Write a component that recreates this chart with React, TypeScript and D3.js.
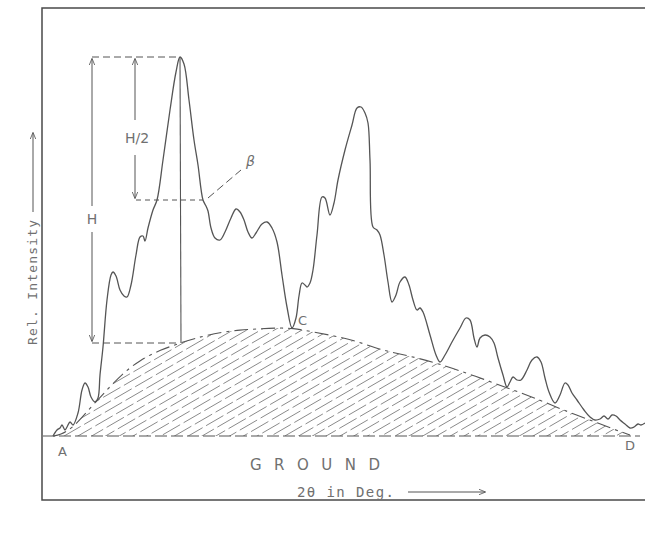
import React from 'react'
import * as d3 from 'd3'

const W = 645, H = 534

// trace of the diffractogram (arbitrary 2θ units, relative counts)
const twoTheta = [0, 4, 7, 9, 12, 14, 17, 20, 25, 29, 32, 35, 38, 42, 45, 47, 50, 54, 58, 60, 63, 67, 71, 74, 78, 83, 87, 90, 92, 95, 100, 104, 110, 117, 123, 127, 131, 136, 141, 145, 150, 153, 155, 158, 162, 167, 172, 178, 183, 187, 191, 195, 199, 203, 209, 214, 219, 224, 229, 234, 239, 243, 246, 249, 252, 254, 257, 260, 264, 269, 272, 277, 281, 285, 292, 299, 304, 308, 312, 315, 317, 320, 324, 327, 331, 335, 339, 343, 347, 352, 356, 360, 364, 367, 370, 377, 383, 387, 392, 399, 407, 413, 417, 421, 424, 427, 432, 437, 441, 445, 450, 454, 457, 460, 464, 468, 474, 479, 484, 488, 492, 496, 502, 507, 512, 515, 519, 524, 531, 537, 542, 547, 551, 555, 559, 563, 567, 572, 577, 581, 585, 588, 592]
const intensity = [0, 6, 8, 11, 6, 9, 14, 11, 23, 46, 53, 49, 39, 34, 38, 61, 89, 136, 161, 164, 160, 146, 140, 139, 151, 181, 199, 200, 195, 208, 226, 236, 276, 326, 364, 379, 372, 336, 296, 271, 236, 230, 225, 208, 198, 196, 204, 218, 227, 224, 216, 204, 198, 203, 212, 214, 208, 194, 161, 129, 108, 118, 140, 153, 151, 149, 153, 166, 201, 239, 238, 221, 233, 256, 286, 311, 328, 329, 323, 313, 276, 209, 206, 201, 181, 154, 134, 141, 154, 159, 151, 136, 126, 128, 124, 101, 81, 74, 81, 94, 108, 118, 116, 98, 89, 98, 101, 99, 93, 78, 61, 49, 54, 59, 56, 56, 66, 76, 79, 74, 58, 44, 33, 41, 53, 51, 43, 36, 26, 19, 16, 17, 20, 17, 21, 20, 16, 12, 8, 9, 12, 11, 13]

// amorphous background (hatched hump)
const bgTheta = [0, 7, 20, 37, 54, 69, 87, 107, 130, 150, 170, 187, 204, 222, 240, 260, 282, 304, 327, 357, 387, 422, 460, 487, 510, 537, 560, 577]
const bgCounts = [0, 1, 8, 28, 46, 62, 76, 86, 94, 100, 104, 106, 107, 108, 108, 104, 100, 95, 86, 80, 72, 60, 46, 36, 26, 16, 7, 1]

const ink = '#555'
const txt = '#707070'
const mono = '"DejaVu Sans Mono", "Liberation Mono", monospace'
const sans = '"DejaVu Sans", sans-serif'

export default function App() {
  const x = d3.scaleLinear().domain([0, 592]).range([53, 645])
  const y = d3.scaleLinear().domain([0, 380]).range([436, 56])

  const pts: [number, number][] = twoTheta.map((t, i) => [t, intensity[i]])
  const bg: [number, number][] = bgTheta.map((t, i) => [t, bgCounts[i]])

  const line = d3.line<[number, number]>().x(d => x(d[0])).y(d => y(d[1])).curve(d3.curveCatmullRom.alpha(0.5))
  const area = d3.area<[number, number]>().x(d => x(d[0])).y0(y(0)).y1(d => y(d[1])).curve(d3.curveBasis)
  const bgLine = d3.line<[number, number]>().x(d => x(d[0])).y(d => y(d[1])).curve(d3.curveBasis)

  // peak geometry
  const iPeak = d3.maxIndex(intensity)
  const peakX = x(twoTheta[iPeak]), peakY = y(intensity[iPeak])
  const baseCount = 93
  const baseY = y(baseCount)
  const halfY = y((intensity[iPeak] + baseCount) / 2)
  const hX = x(39), h2X = x(82)

  // hatch lines, ~30deg, 8px apart vertically
  const hatch = d3.range(330, 800, 8)

  return (
    <svg width={W} height={H} style={{ position: 'absolute', left: 0, top: 0, background: '#fff' }}>
      <defs>
        <clipPath id="hump"><path d={area(bg) || ''} /></clipPath>
        <marker id="ah" viewBox="0 0 10 10" refX="9" refY="5" markerWidth="7" markerHeight="7" orient="auto-start-reverse">
          <path d="M0,1 L10,5 L0,9" fill="none" stroke={ink} strokeWidth={1.2} />
        </marker>
      </defs>

      {/* frame */}
      <path d={`M645,8 H42 V500 H645`} fill="none" stroke="#4a4a4a" strokeWidth={1.5} />

      {/* hatched background */}
      <g clipPath="url(#hump)" stroke="#8a8a8a" strokeWidth={1} strokeDasharray="20 4">
        {hatch.map((o, i) => (
          <line key={o} x1={40} y1={o} x2={660} y2={o - 620 * 0.58} strokeDashoffset={(i * 11) % 24} />
        ))}
      </g>
      <path d={bgLine(bg) || ''} fill="none" stroke={ink} strokeWidth={1.1} strokeDasharray="14 5 3 5" />

      {/* ground line */}
      <line x1={43} x2={640} y1={y(0)} y2={y(0)} stroke={ink} strokeWidth={1.1} strokeDasharray="12 4" />

      {/* spectrum */}
      <path d={line(pts) || ''} fill="none" stroke={ink} strokeWidth={1.3} />

      {/* peak construction */}
      <line x1={hX} x2={peakX} y1={peakY} y2={peakY} stroke={ink} strokeDasharray="7 4" />
      <line x1={hX} x2={peakX} y1={baseY} y2={baseY} stroke={ink} strokeDasharray="7 4" />
      <line x1={peakX} x2={peakX + 1} y1={peakY} y2={baseY} stroke={ink} strokeWidth={1.1} />
      <line x1={hX} x2={hX} y1={peakY + 2} y2={206} stroke={ink} markerStart="url(#ah)" />
      <line x1={hX} x2={hX} y1={232} y2={baseY - 2} stroke={ink} markerEnd="url(#ah)" />
      <text x={hX} y={224} textAnchor="middle" fill={txt} fontFamily={sans} fontSize={14}>H</text>
      <line x1={h2X} x2={h2X} y1={peakY + 2} y2={120} stroke={ink} markerStart="url(#ah)" />
      <line x1={h2X} x2={h2X} y1={155} y2={halfY - 2} stroke={ink} markerEnd="url(#ah)" />
      <text x={h2X + 2} y={143} textAnchor="middle" fill={txt} fontFamily={sans} fontSize={14}>H/2</text>
      <line x1={h2X + 1} x2={x(150)} y1={halfY} y2={halfY} stroke={ink} strokeDasharray="5 4" />
      <line x1={x(155)} x2={241} y1={halfY - 2} y2={170} stroke={ink} strokeDasharray="8 4" />
      <text x={246} y={166} fill={txt} fontFamily={sans} fontStyle="italic" fontSize={14}>β</text>

      {/* labels */}
      <text x={x(245)} y={y(108) - 3} fill={txt} fontFamily={sans} fontSize={13}>C</text>
      <text x={58} y={456} fill={txt} fontFamily={sans} fontSize={13}>A</text>
      <text x={625} y={450} fill={txt} fontFamily={sans} fontSize={13}>D</text>
      <text x={250} y={470} fill={txt} fontFamily={sans} fontSize={15} letterSpacing={12.5}>GROUND</text>

      <text x={297} y={497} fill={txt} fontFamily={mono} fontSize={14} letterSpacing={1.4}>2θ in Deg.</text>
      <line x1={408} x2={485} y1={492} y2={492} stroke={ink} markerEnd="url(#ah)" />

      <g transform="translate(37,345) rotate(-90)">
        <text x={0} y={0} fill={txt} fontFamily={mono} fontSize={13} letterSpacing={1.2}>Rel. Intensity</text>
        <line x1={133} x2={212} y1={-4} y2={-4} stroke={ink} markerEnd="url(#ah)" />
      </g>
    </svg>
  )
}
